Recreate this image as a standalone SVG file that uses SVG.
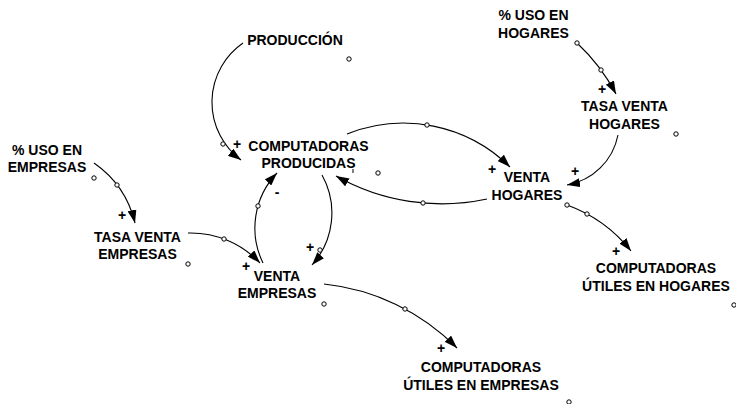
<svg xmlns="http://www.w3.org/2000/svg" width="736" height="404" viewBox="0 0 736 404">
<style>
  .t { font-family: "Liberation Sans", Arial, sans-serif; font-weight: bold; font-size: 14px; fill: #000; text-anchor: middle; }
  .s { font-family: "Liberation Sans", Arial, sans-serif; font-weight: bold; font-size: 14px; fill: #000; text-anchor: middle; }
  .c { fill: none; stroke: #000; stroke-width: 1.1; marker-end: url(#ah); }
  .h { fill: #fff; stroke: #000; stroke-width: 1; }
</style>
<defs>
  <marker id="ah" markerWidth="13" markerHeight="9" refX="13" refY="4.5" orient="auto" markerUnits="userSpaceOnUse" viewBox="0 0 13 9">
    <path d="M0,0 L13,4.5 L0,9 z" fill="#000"/>
  </marker>
</defs>
<rect width="736" height="404" fill="#fff"/>

<g id="connectors">
  <path class="c" d="M243,43 A72,72 0 0,0 241,160"/>
  <path class="c" d="M577,43 A192,192 0 0,1 616,94"/>
  <path class="c" d="M618,135 A63,63 0 0,1 567,185"/>
  <path class="c" d="M347,134 A151.5,151.5 0 0,1 510,167"/>
  <path class="c" d="M487,199 A215,215 0 0,1 336,176"/>
  <path class="c" d="M263,263 A79.5,79.5 0 0,1 277,173"/>
  <path class="c" d="M322,175 A78,78 0 0,1 312,265"/>
  <path class="c" d="M94,163 A102,102 0 0,1 135,223"/>
  <path class="c" d="M188,233 A95,95 0 0,1 260,263"/>
  <path class="c" d="M324,284 A219,219 0 0,1 457,348"/>
  <path class="c" d="M567,205 A144.4,144.4 0 0,1 631,251"/>
  <path d="M353,169 L353,173" stroke="#000" stroke-width="1"/>
  <circle class="h" cx="223" cy="144" r="2.2"/>
  <circle class="h" cx="601" cy="70" r="2.2"/>
  <circle class="h" cx="427" cy="125" r="2.2"/>
  <circle class="h" cx="423" cy="203" r="2.2"/>
  <circle class="h" cx="587" cy="214" r="2.2"/>
  <circle class="h" cx="117" cy="185" r="2.2"/>
  <circle class="h" cx="224" cy="239" r="2.2"/>
  <circle class="h" cx="258" cy="206" r="2.2"/>
  <circle class="h" cx="320" cy="250" r="2.2"/>
  <circle class="h" cx="405" cy="309" r="2.2"/>
  <text class="s" x="237" y="149">+</text>
  <text class="s" x="602" y="94">+</text>
  <text class="s" x="575" y="176">+</text>
  <text class="s" x="492" y="174">+</text>
  <text class="s" x="277" y="197">-</text>
  <text class="s" x="310" y="252">+</text>
  <text class="s" x="122" y="220">+</text>
  <text class="s" x="246" y="271">+</text>
  <text class="s" x="441" y="353">+</text>
  <text class="s" x="616" y="256">+</text>
</g>

<g id="produccion">
  <text class="t" x="295" y="45">PRODUCCIÓN</text>
  <circle class="h" cx="349" cy="59" r="2.2"/>
</g>
<g id="uso-hogares">
  <text class="t" x="533.5" y="20">% USO EN</text>
  <text class="t" x="533.5" y="37.5">HOGARES</text>
  <circle class="h" cx="577" cy="43" r="2.2"/>
</g>
<g id="tasa-venta-hogares">
  <text class="t" x="624.5" y="111">TASA VENTA</text>
  <text class="t" x="624.5" y="129">HOGARES</text>
  <circle class="h" cx="676" cy="134" r="2.2"/>
</g>
<g id="computadoras-producidas">
  <text class="t" x="308.5" y="151">COMPUTADORAS</text>
  <text class="t" x="308.5" y="168">PRODUCIDAS</text>
  <circle class="h" cx="378" cy="173" r="2.2"/>
</g>
<g id="venta-hogares">
  <text class="t" x="527" y="182">VENTA</text>
  <text class="t" x="527" y="200">HOGARES</text>
  <circle class="h" cx="567" cy="205" r="2.2"/>
</g>
<g id="utiles-hogares">
  <text class="t" x="656" y="273">COMPUTADORAS</text>
  <text class="t" x="656" y="291">ÚTILES EN HOGARES</text>
  <circle class="h" cx="734" cy="305" r="2.2"/>
</g>
<g id="uso-empresas">
  <text class="t" x="47" y="155">% USO EN</text>
  <text class="t" x="47" y="172">EMPRESAS</text>
  <circle class="h" cx="94" cy="178" r="2.2"/>
</g>
<g id="tasa-venta-empresas">
  <text class="t" x="137.5" y="241.5">TASA VENTA</text>
  <text class="t" x="137.5" y="258.5">EMPRESAS</text>
  <circle class="h" cx="188" cy="264" r="2.2"/>
</g>
<g id="venta-empresas">
  <text class="t" x="277" y="281">VENTA</text>
  <text class="t" x="277" y="298">EMPRESAS</text>
  <circle class="h" cx="324" cy="304" r="2.2"/>
</g>
<g id="utiles-empresas">
  <text class="t" x="481" y="372">COMPUTADORAS</text>
  <text class="t" x="481" y="390">ÚTILES EN EMPRESAS</text>
  <circle class="h" cx="569" cy="402" r="2.2"/>
</g>
</svg>
